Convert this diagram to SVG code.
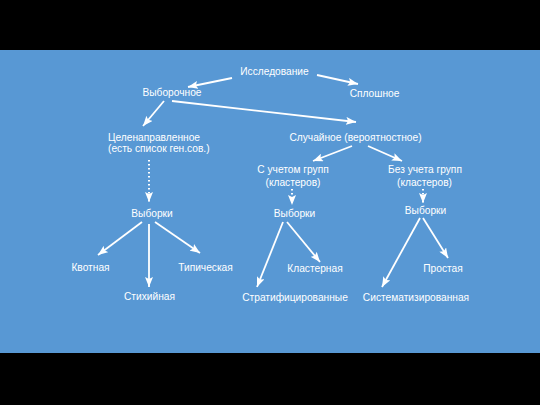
<svg xmlns="http://www.w3.org/2000/svg" width="540" height="405" viewBox="0 0 540 405">
<defs>
<style>
text{font-family:"Liberation Sans",Arial,sans-serif;font-size:10.2px;fill:#ffffff;text-anchor:middle}
.l{text-anchor:start}
.c{stroke:#ffffff;stroke-width:1.8;fill:none;marker-end:url(#ah)}
.d{stroke:#ffffff;stroke-width:2;fill:none;stroke-dasharray:1.5 2.5;marker-end:url(#ah)}
</style>
<marker id="ah" markerUnits="userSpaceOnUse" markerWidth="10" markerHeight="8" refX="10" refY="4" orient="auto">
<path d="M0,0 L10,4 L0,8 L2,4 z" fill="#ffffff"/>
</marker>
</defs>
<rect x="0" y="0" width="540" height="405" fill="#000000"/>
<rect x="0" y="50" width="540" height="303" fill="#5898d4"/>
<g id="connectors">
<line class="c" x1="232" y1="78" x2="188" y2="87"/>
<line class="c" x1="317" y1="75" x2="358" y2="84"/>
<line class="c" x1="164" y1="101" x2="143" y2="126"/>
<line class="c" x1="172" y1="101" x2="356" y2="122"/>
<line class="c" x1="352" y1="146" x2="313" y2="161"/>
<line class="c" x1="368" y1="146" x2="402" y2="161"/>
<line class="d" x1="149" y1="160" x2="149" y2="202"/>
<line class="c" x1="142" y1="222" x2="98" y2="255"/>
<line class="c" x1="149" y1="224" x2="149" y2="287"/>
<line class="c" x1="155" y1="222" x2="200" y2="253"/>
<line class="d" x1="292" y1="189" x2="292" y2="205"/>
<line class="c" x1="283" y1="222" x2="257" y2="287"/>
<line class="c" x1="287" y1="222" x2="320" y2="262"/>
<line class="d" x1="423" y1="189" x2="423" y2="203"/>
<line class="c" x1="420" y1="218" x2="382" y2="287"/>
<line class="c" x1="423" y1="218" x2="448" y2="258"/>
</g>
<g id="issledovanie"><text x="274.5" y="75">Исследование</text></g>
<g id="vyborochnoe"><text x="172" y="96">Выборочное</text></g>
<g id="sploshnoe"><text x="374.5" y="97">Сплошное</text></g>
<g id="celenapr"><text class="l" x="108" y="141">Целенаправленное</text><text class="l" x="108" y="152">(есть список ген.сов.)</text></g>
<g id="sluchainoe"><text x="355.5" y="141">Случайное (вероятностное)</text></g>
<g id="s-uchetom"><text x="293" y="173">С учетом групп</text><text x="293" y="186">(кластеров)</text></g>
<g id="bez-ucheta"><text x="425" y="173">Без учета групп</text><text x="424.5" y="186">(кластеров)</text></g>
<g id="vyborki1"><text x="152" y="217">Выборки</text></g>
<g id="vyborki2"><text x="294.5" y="217">Выборки</text></g>
<g id="vyborki3"><text x="425.5" y="214">Выборки</text></g>
<g id="kvotnaya"><text x="90.5" y="271">Квотная</text></g>
<g id="tipicheskaya"><text x="205.5" y="271">Типическая</text></g>
<g id="stihiynaya"><text x="149.5" y="300">Стихийная</text></g>
<g id="klasternaya"><text x="315" y="272">Кластерная</text></g>
<g id="prostaya"><text x="443" y="272">Простая</text></g>
<g id="stratif"><text x="295" y="301">Стратифицированные</text></g>
<g id="sistemat"><text x="416" y="301">Систематизированная</text></g>
</svg>
